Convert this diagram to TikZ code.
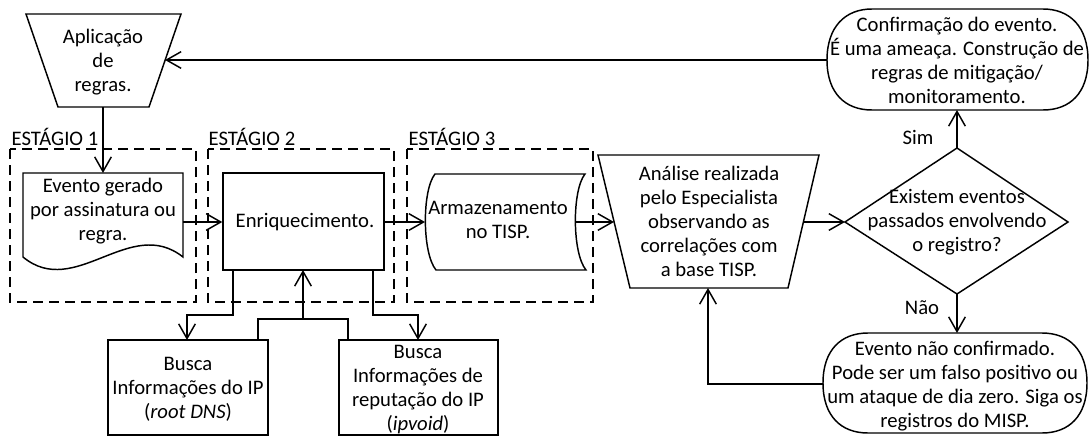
\documentclass[tikz,border=0pt]{standalone}
\usepackage{fontspec}
\setmainfont{Carlito}
\usetikzlibrary{arrows.meta}
\begin{document}
\begin{tikzpicture}[x=0.75pt,y=-0.75pt,
  line width=1.1pt,
  shp/.style={draw, line width=1.1pt, line join=miter},
  txt/.style={align=center, font=\fontsize{15.5}{18}\selectfont, inner sep=0pt},
  arr/.style={draw, line width=1.1pt, -{Straight Barb[length=11pt,width=12.5pt]}},
  ln/.style={draw, line width=1.1pt},
  stagebox/.style={draw, dash pattern=on 7.5pt off 4.5pt, line width=1.1pt}]
\useasboundingbox (0,0) rectangle (1090,436);

% stage boxes
\draw[stagebox] (10,149) rectangle (196,302);
\draw[stagebox] (208,149) rectangle (394,302);
\draw[stagebox] (407,149) rectangle (593,302);
\node[txt, anchor=west] (s1) at (11,137) {ESTÁGIO 1};
\node[txt, anchor=west] (s2) at (208,137) {ESTÁGIO 2};
\node[txt, anchor=west] (s3) at (408,137) {ESTÁGIO 3};

% Aplicacao de regras (trapezoid)
\draw[shp] (26,14) -- (181,14) -- (149,107) -- (58,107) -- cycle;
\node[txt] (apl) at (103,62) {Aplicação\\de\\regras.};
\coordinate (aplR) at (165,60);
\coordinate (aplB) at (103,107);

% Evento gerado (document)
\draw[shp] (23,257) -- (23,173) -- (183,173) -- (183,257)
  .. controls (130,215) and (75,300) .. (23,257) -- cycle;
\node[txt] (evt) at (103,211) {Evento gerado\\por assinatura ou\\regra.};
\coordinate (evtT) at (103,173);
\coordinate (evtR) at (183,222);

% Enriquecimento
\node[shp, minimum width=120.75pt, minimum height=72.75pt, inner sep=0pt] (enr) at (303.5,221.5) {};
\node[txt] (enrT) at (305,222) {Enriquecimento.};

% Armazenamento (stored data)
\draw[shp] (435,174) -- (585,174) .. controls (572,190) and (572,253) .. (586,270)
  -- (436,270) .. controls (422,253) and (422,190) .. (435,174) -- cycle;
\node[txt] (arm) at (498,220) {Armazenamento\\no TISP.};
\coordinate (armL) at (425,222);
\coordinate (armR) at (575,222);

% Analise (inverted trapezoid)
\draw[shp] (598,155) -- (819,155) -- (788,288) -- (630,288) -- cycle;
\node[txt] (ana) at (709,221) {Análise realizada\\pelo Especialista\\observando as\\correlações com\\a base TISP.};
\coordinate (anaL) at (614,222);
\coordinate (anaR) at (803,222);
\coordinate (anaB) at (708,288);

% Decision diamond
\draw[shp] (957,148) -- (1068,222) -- (957,294) -- (845,222) -- cycle;
\node[txt] (dec) at (957,222) {Existem eventos\\passados envolvendo\\o registro?};
\coordinate (decT) at (957,148);
\coordinate (decB) at (957,294);
\coordinate (decL) at (845,222);

% Top terminator
\draw[shp] (827,60) .. controls (827,27) and (845,9) .. (872,9) -- (1043,9)
  .. controls (1070,9) and (1088,27) .. (1088,60)
  .. controls (1088,93) and (1070,110) .. (1043,110) -- (872,110)
  .. controls (845,110) and (827,93) .. (827,60) -- cycle;
\node[txt] (conf) at (957,60) {Confirmação do evento.\\É uma ameaça. Construção de\\regras de mitigação/\\monitoramento.};
\coordinate (confL) at (827,60);
\coordinate (confB) at (957,110);

% Bottom terminator
\draw[shp] (823,383) .. controls (823,350) and (841,333) .. (868,333) -- (1042,333)
  .. controls (1069,333) and (1087,350) .. (1087,383)
  .. controls (1087,416) and (1069,433) .. (1042,433) -- (868,433)
  .. controls (841,433) and (823,416) .. (823,383) -- cycle;
\node[txt] (nconf) at (955,386) {Evento não confirmado.\\Pode ser um falso positivo ou\\um ataque de dia zero. Siga os\\registros do MISP.};
\coordinate (nconfL) at (823,384);
\coordinate (nconfT) at (957,333);

% Busca boxes
\draw[shp] (108,340) -- (108,435) -- (268,435) -- (268,340) -- cycle;
\node[txt] (b1) at (188,389) {Busca\\Informações do IP\\(\textit{root DNS})};
\draw[shp] (339,340) -- (339,435) -- (498,435) -- (498,340) -- cycle;
\node[txt] (b2) at (418,390) {Busca\\Informações de\\reputação do IP\\(\textit{ipvoid})};

% Labels
\node[txt] (sim) at (918,137) {Sim};
\node[txt] (nao) at (922,308) {Não};

% Connectors
\draw[arr] (confL) -- (aplR);
\draw[arr] (aplB) -- (evtT);
\draw[arr] (evtR) -- (enr.west |- evtR);
\draw[arr] (enr.east |- evtR) -- (armL);
\draw[arr] (armR) -- (anaL);
\draw[arr] (anaR) -- (decL);
\draw[arr] (decT) -- (confB);
\draw[arr] (decB) -- (nconfT);
\draw[arr] (nconfL) -- (708,384) -- (anaB);

\draw[arr] (233,270) -- (233,315) -- (187,315) -- (187,340);
\draw[arr] (373,270) -- (373,315) -- (418,315) -- (418,340);
\draw[ln] (258,340) -- (258,319) -- (348,319) -- (348,340);
\draw[arr] (303,319) -- (303,270);
\end{tikzpicture}
\end{document}
